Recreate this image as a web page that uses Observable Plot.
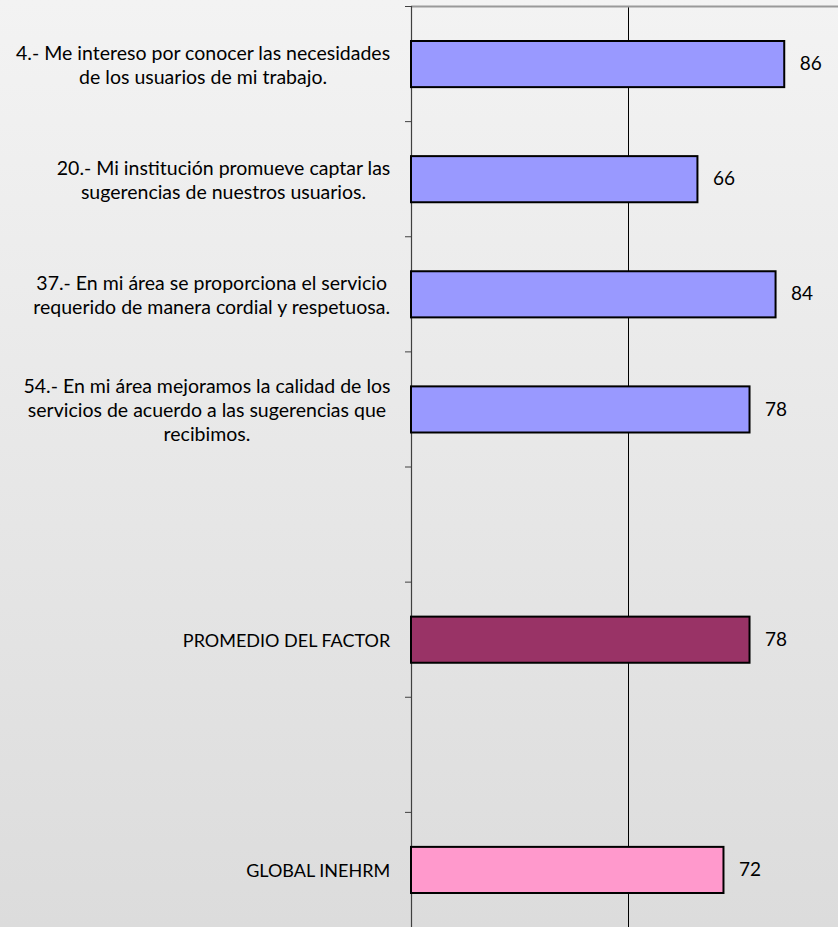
<!DOCTYPE html>
<html>
<head>
<meta charset="utf-8">
<script src="https://cdn.jsdelivr.net/npm/d3@7"></script>
<script src="https://cdn.jsdelivr.net/npm/@observablehq/plot@0.6"></script>
<style>
  html, body { margin: 0; padding: 0; }
  body { width: 838px; height: 927px; overflow: hidden;
         background: linear-gradient(to bottom, #f3f3f3 0%, #dcdcdc 100%); }
  svg { display: block; }
</style>
</head>
<body>
<div id="chart"></div>
<script>
const categories = [
  "4.- Me intereso por conocer las necesidades\nde los usuarios de mi trabajo.",
  "20.- Mi institución promueve captar las\nsugerencias de nuestros usuarios.",
  "37.- En mi área se proporciona el servicio\nrequerido de manera cordial y respetuosa.",
  "54.- En mi área mejoramos la calidad de los\nservicios de acuerdo a las sugerencias que\nrecibimos.",
  "",
  "PROMEDIO DEL FACTOR",
  "",
  "GLOBAL INEHRM"
];
const values = [86, 66, 84, 78, null, 78, null, 72];
const fills = ["#9999FF", "#9999FF", "#9999FF", "#9999FF", null, "#993366", null, "#FF99CC"];
const xTicks = [0, 50, 100];

const rows = categories.map((label, i) => ({ label, value: values[i], fill: fills[i], i }));
const bars = rows.filter(d => d.value != null);

const FONT = "Lato";
const labelSize = 19.5;
const capsSize = 18;

// measure text to center lines inside a right-aligned block (as Excel does)
const ctx = document.createElement("canvas").getContext("2d");
function blockWidth(label, size, family) {
  ctx.font = `${size}px ${family}`;
  return d3.max(label.split("\n"), s => ctx.measureText(s).width) || 0;
}
const isCaps = s => s !== "" && s === s.toUpperCase();

const labelMarks = rows.filter(d => d.label !== "").map(d => {
  const size = isCaps(d.label) ? capsSize : labelSize;
  const w = blockWidth(d.label, size, FONT);
  return Plot.text([d], {
    x: 0, y: r => r.i + 0.5, text: "label",
    textAnchor: "middle", dx: -21 - w / 2, lineHeight: 1.22,
    fontSize: size, fontFamily: FONT, fill: "#000"
  });
});

const chart = Plot.plot({
  width: 838,
  height: 927,
  marginTop: 6,
  marginBottom: 0,
  marginLeft: 411,
  marginRight: 0,
  x: { domain: [0, 100], range: [411, 845], axis: null },
  y: { domain: [0, categories.length], range: [6, 927], axis: null },
  color: { type: "identity" },
  style: { background: "transparent", fontFamily: FONT, fontSize: "19px", color: "#000", overflow: "visible" },
  marks: [
    Plot.ruleX(xTicks.slice(1), { stroke: "#000", strokeWidth: 1 }),
    Plot.ruleY([0], { stroke: "#999", strokeWidth: 2 }),
    Plot.ruleX([0], { stroke: "#404040", strokeWidth: 1.2 }),
    Plot.axisY({ ticks: d3.range(categories.length + 1), tickSize: 6, tickFormat: () => "", label: null, stroke: "#404040" }),
    Plot.rectX(bars, {
      x1: 0, x2: "value", y1: "i", y2: d => d.i + 1,
      insetTop: 35, insetBottom: 34,
      fill: "fill", stroke: "#000", strokeWidth: 2
    }),
    Plot.text(bars, {
      x: "value", y: d => d.i + 0.5, text: d => String(d.value),
      dx: 15, textAnchor: "start", fill: "#000", fontSize: 19
    }),
    ...labelMarks
  ]
});

document.getElementById("chart").append(chart);
</script>
</body>
</html>
